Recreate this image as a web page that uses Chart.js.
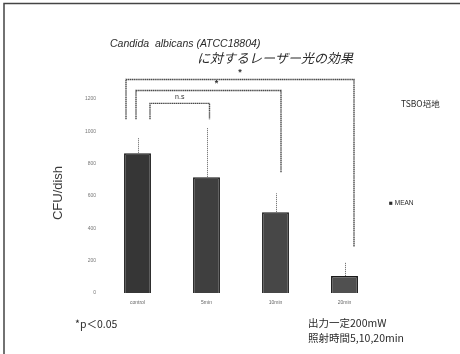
<!DOCTYPE html>
<html>
<head>
<meta charset="utf-8">
<script src="https://cdn.jsdelivr.net/npm/chart.js@4.4.1/dist/chart.umd.min.js"></script>
<style>
  html, body { margin: 0; padding: 0; background: #fff; }
  #wrap { position: relative; width: 460px; height: 354px; }
</style>
</head>
<body>
<div id="wrap"><canvas id="c" width="460" height="354"></canvas></div>
<script>
// Colony counts after laser irradiation (mean, +SD)
const categories = ['control', '5min', '10min', '20min'];
const meanValues = [864, 716, 500, 105];
const sdValues = [99, 309, 117, 86];
const yTicks = [0, 200, 400, 600, 800, 1000, 1200];

// significance brackets: [from index, to index, bracket level, left leg end, right leg end, label]
const bracketFrom = [0, 0, 0];
const bracketTo = [1, 2, 3];
const bracketLevel = [1173, 1253, 1321];
const bracketLeftEnd = [1074, 1074, 1074];
const bracketRightEnd = [1074, 747, 284];
const bracketLabels = ['n.s', '*', '*'];

// horizontal nudges (px) of bracket legs away from category centres
const legShiftLeft = [12.5, -1.5, -11.5];
const legShiftRight = [3, 5.5, 9.5];

const barFill = ['#363636', '#3f3f3f', '#474747', '#505050'];

const overlay = {
  id: 'overlay',
  afterDatasetsDraw(chart) {
    const ctx = chart.ctx;
    const y = chart.scales.y;
    const x = chart.scales.x;
    const meta = chart.getDatasetMeta(0);
    ctx.save();

    // upper whiskers
    ctx.strokeStyle = '#7a7a7a';
    ctx.lineWidth = 1;
    ctx.setLineDash([1.2, 0.8]);
    meta.data.forEach((bar, i) => {
      const top = y.getPixelForValue(meanValues[i] + sdValues[i]);
      const px = Math.round(bar.x) + 0.5;
      ctx.beginPath();
      ctx.moveTo(px, bar.y);
      ctx.lineTo(px, top);
      ctx.stroke();
    });

    // significance brackets
    ctx.strokeStyle = '#4a4a4a';
    ctx.lineWidth = 1.4;
    ctx.setLineDash([1.4, 0.5]);
    for (let k = 0; k < bracketFrom.length; k++) {
      const x1 = x.getPixelForValue(bracketFrom[k]) + legShiftLeft[k];
      const x2 = x.getPixelForValue(bracketTo[k]) + legShiftRight[k];
      const yl = y.getPixelForValue(bracketLevel[k]);
      ctx.beginPath();
      ctx.moveTo(x1, y.getPixelForValue(bracketLeftEnd[k]));
      ctx.lineTo(x1, yl);
      ctx.lineTo(x2, yl);
      ctx.lineTo(x2, y.getPixelForValue(bracketRightEnd[k]));
      ctx.stroke();
    }
    ctx.setLineDash([]);
    ctx.fillStyle = '#333';
    ctx.textAlign = 'center';
    ctx.textBaseline = 'middle';
    for (let k = 0; k < bracketFrom.length; k++) {
      const x2 = x.getPixelForValue(bracketTo[k]) + legShiftRight[k];
      const x1 = x.getPixelForValue(bracketFrom[k]) + legShiftLeft[k];
      const yl = y.getPixelForValue(bracketLevel[k]);
      const cx = (x1 + x2) / 2 + (k === 1 ? 8 : 0);
      ctx.font = k === 0 ? '7px "Liberation Sans", Arial, sans-serif' : 'bold 9px "Liberation Sans", Arial, sans-serif';
      ctx.fillText(bracketLabels[k], cx, yl - (k === 0 ? 6 : 7));
    }

    // titles and notes
    ctx.textAlign = 'left';
    ctx.fillStyle = '#2a2a2a';
    ctx.font = 'italic 10.5px "Liberation Sans", Arial, sans-serif';
    ctx.fillText('Candida  albicans (ATCC18804)', 110, 44);
    ctx.font = 'italic 13px "Noto Sans CJK JP", sans-serif';
    ctx.fillText('に対するレーザー光の効果', 197, 58);

    ctx.font = '8.5px "Noto Sans CJK JP", sans-serif';
    ctx.fillText('TSBO培地', 401, 104);
    ctx.font = '6.5px "Liberation Sans", Arial, sans-serif';
    ctx.fillText('■ MEAN', 389, 203);

    ctx.font = '10.5px "Noto Sans CJK JP", sans-serif';
    ctx.fillText('*p＜0.05', 75, 324);
    ctx.fillText('出力一定200mW', 308, 323);
    ctx.fillText('照射時間5,10,20min', 308, 338);

    // axis title
    ctx.save();
    ctx.translate(58, 193);
    ctx.rotate(-Math.PI / 2);
    ctx.textAlign = 'center';
    ctx.font = '13px "Liberation Sans", Arial, sans-serif';
    ctx.fillStyle = '#3a3a3a';
    ctx.fillText('CFU/dish', 0, 0);
    ctx.restore();

    // frame edges
    ctx.strokeStyle = '#444';
    ctx.lineWidth = 1.5;
    ctx.beginPath();
    ctx.moveTo(4, 354);
    ctx.lineTo(4, 3.5);
    ctx.lineTo(460, 3.5);
    ctx.stroke();

    ctx.restore();
  }
};

new Chart(document.getElementById('c'), {
  type: 'bar',
  data: {
    labels: categories,
    datasets: [{
      data: meanValues,
      backgroundColor: barFill,
      borderColor: '#1a1a1a',
      borderWidth: 1.5,
      barPercentage: 0.39,
      categoryPercentage: 1
    }]
  },
  options: {
    responsive: false,
    animation: false,
    devicePixelRatio: 1,
    layout: { padding: { top: 99, right: 81, bottom: 0, left: 0 } },
    plugins: { legend: { display: false }, title: { display: false }, tooltip: { enabled: false } },
    scales: {
      x: {
        grid: { display: false, drawTicks: false },
        border: { display: false },
        ticks: { color: '#666', font: { size: 5 }, padding: 7, maxRotation: 0 },
        afterFit(s) { s.height = 61; }
      },
      y: {
        min: 0,
        max: 1200,
        grid: { display: false, drawTicks: false },
        border: { display: false },
        afterBuildTicks(s) { s.ticks = yTicks.map(v => ({ value: v })); },
        ticks: { color: '#777', font: { size: 5 }, padding: 7, callback: v => String(v) },
        afterFit(s) { s.width = 103; }
      }
    }
  },
  plugins: [overlay]
});
</script>
</body>
</html>
